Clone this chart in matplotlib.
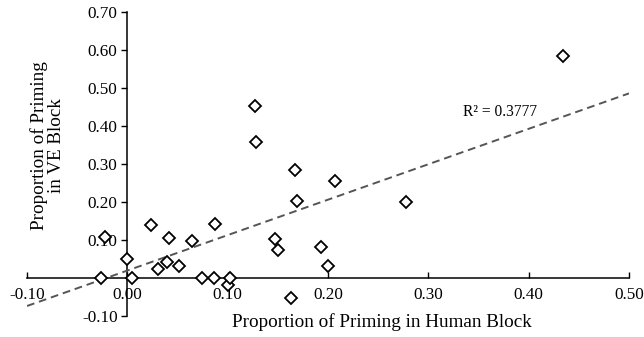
import numpy as np
import matplotlib
matplotlib.use("Agg")
import matplotlib.pyplot as plt

# proportions of priming
human_block = [-0.026, -0.022, 0.000, 0.005, 0.024, 0.031, 0.040, 0.042, 0.051,
               0.064, 0.074, 0.086, 0.087, 0.100, 0.102, 0.127, 0.128, 0.147,
               0.150, 0.163, 0.167, 0.169, 0.193, 0.200, 0.207, 0.278, 0.434]
ve_block = [0.000, 0.108, 0.048, 0.000, 0.140, 0.022, 0.041, 0.105, 0.031,
            0.097, 0.000, 0.000, 0.141, -0.018, 0.000, 0.452, 0.357, 0.101,
            0.074, -0.054, 0.283, 0.201, 0.080, 0.031, 0.255, 0.200, 0.583]

trend_slope = 0.9325
trend_intercept = 0.0188
r_squared = 0.3777

x_ticks = [-0.10, 0.00, 0.10, 0.20, 0.30, 0.40, 0.50]
y_ticks = [-0.10, 0.10, 0.20, 0.30, 0.40, 0.50, 0.60, 0.70]

plt.rcParams['font.family'] = ['Liberation Serif', 'DejaVu Serif']

fig = plt.figure(figsize=(6.44, 3.37), dpi=100)
ax = fig.add_axes([27 / 644, 1 - 315.7 / 337, 602 / 644, 304 / 337])

# trend line over the whole x range
xs = np.array([x_ticks[0], x_ticks[-1]])
ax.plot(xs, trend_slope * xs + trend_intercept, color='#555555', lw=1.4,
        linestyle=(0, (4, 2.5)), zorder=2)

ax.plot(human_block, ve_block, linestyle='none', marker='D', markersize=5.8,
        markerfacecolor='white', markeredgecolor='black', markeredgewidth=1.3,
        zorder=3, clip_on=False)

ax.set_xlim(x_ticks[0], x_ticks[-1])
ax.set_ylim(y_ticks[0], y_ticks[-1])

# axes crossing at the origin
ax.spines['left'].set_position(('data', 0))
ax.spines['bottom'].set_position(('data', 0))
ax.spines['right'].set_visible(False)
ax.spines['top'].set_visible(False)
for s in ('left', 'bottom'):
    ax.spines[s].set_linewidth(1.1)
    ax.spines[s].set_zorder(1)

ax.set_xticks(x_ticks)
ax.set_xticklabels([f"{v:.2f}" for v in x_ticks])
ax.set_yticks(y_ticks)
ax.set_yticklabels([f"{v:.2f}" for v in y_ticks])
ax.tick_params(axis='x', direction='in', length=4, width=1, labelsize=12.3, pad=7)
ax.tick_params(axis='y', direction='out', length=4, width=1, labelsize=12.3, pad=3)

ax.text(0.371, 0.436, f"R² = {r_squared}", fontsize=11.2, ha='center', va='center')

fig.text(382 / 644, 1 - 322 / 337, "Proportion of Priming in Human Block",
         fontsize=13.8, ha='center', va='center')
fig.text(48 / 644, 1 - 146 / 337, "Proportion of Priming\nin VE Block",
         fontsize=13.8, ha='center', va='center', rotation=90, linespacing=1.0)

fig.savefig("out.png", dpi=100)
